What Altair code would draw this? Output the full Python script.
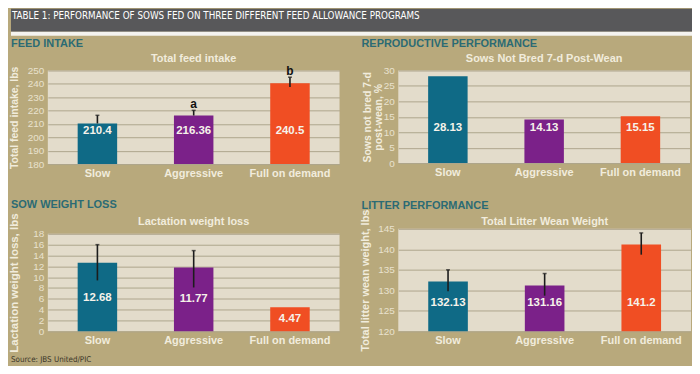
import altair as alt
import pandas as pd

# ---- data -------------------------------------------------------------
programs = ["Slow", "Aggressive", "Full on demand"]
bar_colors = ["#0f6a86", "#7b2189", "#f04e23"]

feed_intake = [210.4, 216.36, 240.5]
feed_err_low = [210.4, 216.36, 237.6]
feed_err_high = [216.5, 220.2, 245.0]
feed_letters = ["", "a", "b"]

not_bred = [28.13, 14.13, 15.15]

weight_loss = [12.68, 11.77, 4.47]
wl_err_low = [9.4, 8.1, None]
wl_err_high = [16.0, 14.9, None]

litter_wean = [132.13, 131.16, 141.2]
lw_err_low = [129.8, 128.7, 138.7]
lw_err_high = [135.0, 134.1, 144.0]

header_text = "TABLE 1: PERFORMANCE OF SOWS FED ON THREE DIFFERENT FEED ALLOWANCE PROGRAMS"
source_text = "Source: JBS United/PIC"

# ---- styles -------------------------------------------------------------
TAN = "#b8a97c"
PLOT_BG = "#e3dccb"
GRID = "#ada58c"
CREAM = "#f1ecdc"
TICK_CREAM = "#e9e2ce"
TEAL = "#2b6b74"
HEADER_BG = "#58585a"
BOLD_FONT = "Liberation Sans, Arial, Helvetica, sans-serif"
NARROW_FONT = "Liberation Sans Narrow, Arial Narrow, DejaVu Sans Condensed, Liberation Sans, sans-serif"
W = 293


def frame(values, low=None, high=None, letters=None):
    d = {"program": programs, "v": values, "lab": [str(v) for v in values]}
    if low is not None:
        d["lo"] = low
        d["hi"] = high
    if letters is not None:
        d["letter"] = letters
    return pd.DataFrame(d)


one = alt.Data(values=[{}])


def text_at(txt, x, y, size, color, weight="bold", align="left", font=BOLD_FONT):
    return alt.Chart(one).mark_text(
        text=txt, align=align, baseline="middle", fontSize=size, fontWeight=weight,
        color=color, font=font
    ).encode(x=alt.value(x), y=alt.value(y))


def panel(df, domain, ticks, ytitle, ytitle_size, section, section_y,
          subtitle, subtitle_y, label_expr, errors=True, letters=False, width=W,
          title_x=-32):
    x_scale = alt.Scale(paddingInner=0.59, paddingOuter=0.31)
    x_axis = alt.Axis(labelAngle=0, labelColor=CREAM, labelFont=BOLD_FONT,
                      labelFontWeight="bold", labelFontSize=11, labelPadding=3,
                      domain=False, ticks=False)
    y_scale = alt.Scale(domain=domain, zero=False, nice=False)
    y_axis = alt.Axis(values=ticks, grid=True, gridColor=GRID, gridWidth=1,
                      domain=False, ticks=False, labelColor=TICK_CREAM,
                      labelFont=BOLD_FONT, labelFontSize=10, labelPadding=4,
                      labelFlush=False, labelOverlap=False,
                      titleColor=CREAM, titleFont=BOLD_FONT, titleFontWeight="bold",
                      titleFontSize=ytitle_size, titleX=title_x, titleBaseline="middle",
                      titleAngle=270, titleLineHeight=11)

    def X():
        return alt.X("program:N", sort=programs, title=None, scale=x_scale, axis=x_axis)

    def Y(field):
        return alt.Y(field, title=ytitle, scale=y_scale, axis=y_axis)

    base = alt.Chart(df)
    bars = base.mark_bar().encode(
        x=X(), y=Y("v:Q"), y2=alt.datum(domain[0]),
        color=alt.Color("program:N", scale=alt.Scale(domain=programs, range=bar_colors),
                        legend=None))
    labels = base.transform_calculate(ly=label_expr).mark_text(
        fontSize=11.5, fontWeight="bold", color="#f6f2ea", font=BOLD_FONT, baseline="middle"
    ).encode(x=X(), y=Y("ly:Q"), text="lab:N")
    layers = [bars]
    if errors:
        eb = base.transform_filter("isValid(datum.lo)")
        layers.append(eb.mark_rule(color="#1c1c1c", strokeWidth=1.6).encode(
            x=X(), y=Y("lo:Q"), y2="hi:Q"))
        layers.append(eb.mark_tick(color="#1c1c1c", thickness=1.5, size=4).encode(
            x=X(), y=Y("hi:Q")))
    layers.append(labels)
    if letters:
        layers.append(base.transform_calculate(ty="datum.hi + 4.6").mark_text(
            fontSize=12, fontWeight="bold", color="#111111", font=BOLD_FONT,
            baseline="middle").encode(x=X(), y=Y("ty:Q"), text="letter:N"))
    layers.append(text_at(section, -37, section_y, 11, TEAL))
    layers.append(text_at(subtitle, width / 2, subtitle_y, 11, CREAM, align="center"))
    return layers


# ---- panel 1 : feed intake (+ header) ------------------------------------
p1_layers = [
    alt.Chart(one).mark_rect(color=HEADER_BG).encode(
        x=alt.value(-37), x2=alt.value(647), y=alt.value(-62), y2=alt.value(-39)),
    alt.Chart(one).mark_rect(color="#f4f3ef").encode(
        x=alt.value(-37), x2=alt.value(647), y=alt.value(-39), y2=alt.value(-35)),
    text_at(header_text, -36, -55, 9.8, "#ffffff", weight="normal", font=NARROW_FONT),
]
p1_layers += panel(frame(feed_intake, feed_err_low, feed_err_high, feed_letters),
                   [180, 250], list(range(180, 251, 10)),
                   "Total feed intake, lbs", 10.5, "FEED INTAKE", -27,
                   "Total feed intake", -12, "205", letters=True, title_x=-33)
p1 = alt.layer(*p1_layers).properties(width=W, height=94)

# ---- panel 2 : reproductive performance ---------------------------------
p2 = alt.layer(*panel(frame(not_bred), [0, 30], list(range(0, 31, 5)),
                      ["Sows not bred 7-d", "post-wean, %"], 10.5,
                      "REPRODUCTIVE PERFORMANCE", -27,
                      "Sows Not Bred 7-d Post-Wean", -12, "11.5",
                      errors=False, title_x=-31)).properties(width=W, height=93)

# ---- panel 3 : sow weight loss (+ source) --------------------------------
p3_layers = [
    alt.Chart(one).mark_rect(color=TAN).encode(
        x=alt.value(-37), x2=alt.value(-36), y=alt.value(120), y2=alt.value(132)),
]
p3_layers += panel(frame(weight_loss, wl_err_low, wl_err_high),
                   [0, 18], list(range(0, 19, 2)),
                   "Lactation weight loss, lbs", 11.5, "SOW WEIGHT LOSS", -29,
                   "Lactation weight loss", -12, "min(6.2, datum.v / 2)", title_x=-33)
p3_layers.append(text_at(source_text, -37, 127, 8, "#3b3629", weight="normal",
                         font=NARROW_FONT))
p3 = alt.layer(*p3_layers).properties(width=W, height=98)

# ---- panel 4 : litter performance ----------------------------------------
p4 = alt.layer(*panel(frame(litter_wean, lw_err_low, lw_err_high),
                      [120, 145], list(range(120, 146, 5)),
                      "Total litter wean weight, lbs", 11, "LITTER PERFORMANCE", -23,
                      "Total Litter Wean Weight", -7, "127",
                      width=294, title_x=-33)).properties(width=294, height=103)

# nested flush columns count as zero width, so the column gap includes the
# first column's plot width (293 + 59)
chart = alt.hconcat(
    alt.vconcat(p1, p3, spacing=70, bounds="flush"),
    alt.vconcat(p2, p4, spacing=66, bounds="flush"),
    spacing=352, bounds="flush",
).properties(padding=0, background=TAN).configure_view(stroke=None, fill=PLOT_BG)

chart.save("out.html", embed_options={"renderer": "svg", "actions": False})
